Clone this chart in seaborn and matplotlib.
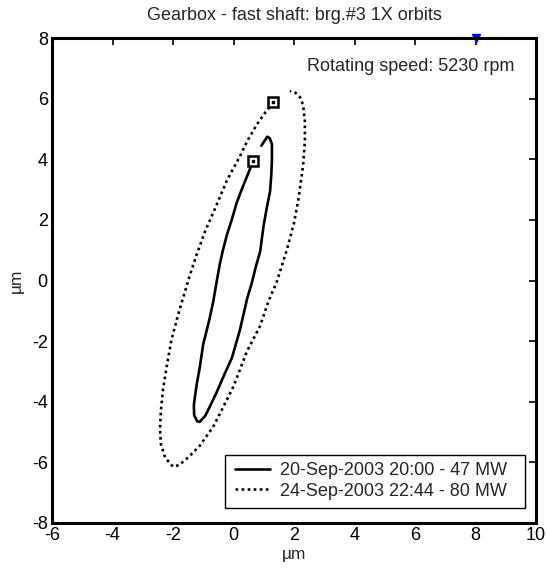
import matplotlib
matplotlib.use("Agg")
import matplotlib.pyplot as plt
from matplotlib.patches import Rectangle
import seaborn as sns
import pandas as pd

# Orbit 1 (20-Sep-2003 20:00 - 47 MW), path order from the start marker
orbit1_x = [0.65, 0.45, 0.25, 0.10, -0.06, -0.22, -0.35, -0.45, -0.55, -0.67, -0.80, -1.00,
            -1.12, -1.22, -1.31, -1.30, -1.20, -1.12, -0.94, -0.80, -0.56, -0.30, -0.05, 0.21,
            0.45, 0.60, 0.75, 0.88, 0.99, 1.10, 1.21, 1.25, 1.27, 1.27, 1.20, 1.12, 1.03, 0.92]
orbit1_y = [3.95, 3.45, 2.95, 2.55, 2.00, 1.50, 1.00, 0.55, 0.00, -0.70, -1.30, -2.10,
            -2.90, -3.45, -4.10, -4.45, -4.65, -4.67, -4.48, -4.20, -3.70, -3.10, -2.55, -1.64,
            -0.60, -0.10, 0.50, 0.95, 1.78, 2.40, 2.95, 3.50, 4.00, 4.50, 4.70, 4.75, 4.62, 4.45]

# Orbit 2 (24-Sep-2003 22:44 - 80 MW)
orbit2_x = [1.32, 1.05, 0.77, 0.45, 0.21, -0.22, -0.60, -0.95, -1.22, -1.45, -1.66, -1.85,
            -2.05, -2.21, -2.33, -2.40, -2.43, -2.40, -2.26, -2.00, -1.80, -1.45, -1.11, -0.67,
            -0.30, 0.00, 0.44, 0.88, 1.15, 1.43, 1.76, 2.00, 2.15, 2.30, 2.36, 2.36, 2.30, 2.20,
            2.05, 1.87]
orbit2_y = [5.88, 5.55, 5.15, 4.60, 4.10, 3.30, 2.40, 1.60, 0.85, 0.15, -0.55, -1.20,
            -1.95, -2.85, -3.60, -4.30, -4.90, -5.40, -5.85, -6.15, -6.10, -5.80, -5.45, -4.83,
            -4.10, -3.50, -2.35, -1.50, -0.70, -0.05, 1.00, 1.90, 2.70, 3.80, 4.60, 5.25, 5.80, 6.05,
            6.20, 6.26]

labels = ["20-Sep-2003 20:00 - 47 MW", "24-Sep-2003 22:44 - 80 MW"]
ref_point = (8, 8)
title = "Gearbox - fast shaft: brg.#3 1X orbits"
speed_text = "Rotating speed: 5230 rpm"

sns.set_style("white")
plt.rcParams['font.family'] = ['Liberation Sans', 'DejaVu Sans']
plt.rcParams['axes.unicode_minus'] = False

fig = plt.figure(figsize=(5.47, 5.71), dpi=100)
ax = fig.add_axes([52/547, 1 - 522.7/571, (536 - 52)/547, (522.7 - 38.3)/571])

d1 = pd.DataFrame({"x": orbit1_x, "y": orbit1_y})
d2 = pd.DataFrame({"x": orbit2_x, "y": orbit2_y})
sns.lineplot(data=d1, x="x", y="y", sort=False, estimator=None, ax=ax,
             color="black", lw=1.9, linestyle="-", label=labels[0])
sns.lineplot(data=d2, x="x", y="y", sort=False, estimator=None, ax=ax,
             color="black", lw=1.9, linestyle=(0, (1, 1.3)), label=labels[1])

# start markers
ax.plot(orbit1_x[0], orbit1_y[0], marker="s", ms=7, mfc="white", mec="black", mew=1.8, zorder=5)
ax.plot(orbit2_x[0], orbit2_y[0], marker="s", ms=7, mfc="white", mec="black", mew=1.8, zorder=5)
ax.plot(orbit1_x[0], orbit1_y[0], marker="s", ms=1.5, color="black", zorder=6)
ax.plot(orbit2_x[0], orbit2_y[0], marker="s", ms=1.5, color="black", zorder=6)

ax.plot(ref_point[0], ref_point[1], marker="v", ms=5.5, color="blue", clip_on=False, zorder=1)

ax.set_xlim(-6, 10)
ax.set_ylim(-8, 8)
ax.set_xticks(range(-6, 11, 2))
ax.set_yticks(range(-8, 9, 2))
ax.set_xlabel("µm", fontsize=12.5, labelpad=2)
ax.set_ylabel("µm", fontsize=12.5, labelpad=6)
ax.set_title(title, fontsize=13, pad=13)
ax.tick_params(direction="in", length=5, width=1.2, labelsize=13, top=True, right=True,
               colors="black", pad=3)
for s in ax.spines.values():
    s.set_linewidth(2.2)
    s.set_color("black")
    s.set_zorder(3)

ax.text(9.3, 7.07, speed_text, ha="right", va="center", fontsize=13)

# legend box (MATLAB-like, with extra right padding)
ax.add_patch(Rectangle((0.3574, 0.0303), 0.9773 - 0.3574, 0.1398 - 0.0303,
                       transform=ax.transAxes, facecolor="white", edgecolor="black",
                       lw=1.0, zorder=4.5))
leg = ax.legend(loc="center left", bbox_to_anchor=(0.378, 0.0861), fontsize=13,
                frameon=False, handlelength=1.94, borderaxespad=0, borderpad=0,
                labelspacing=0.2, handletextpad=0.55)
leg.set_zorder(6)

fig.savefig("out.png", dpi=100)
